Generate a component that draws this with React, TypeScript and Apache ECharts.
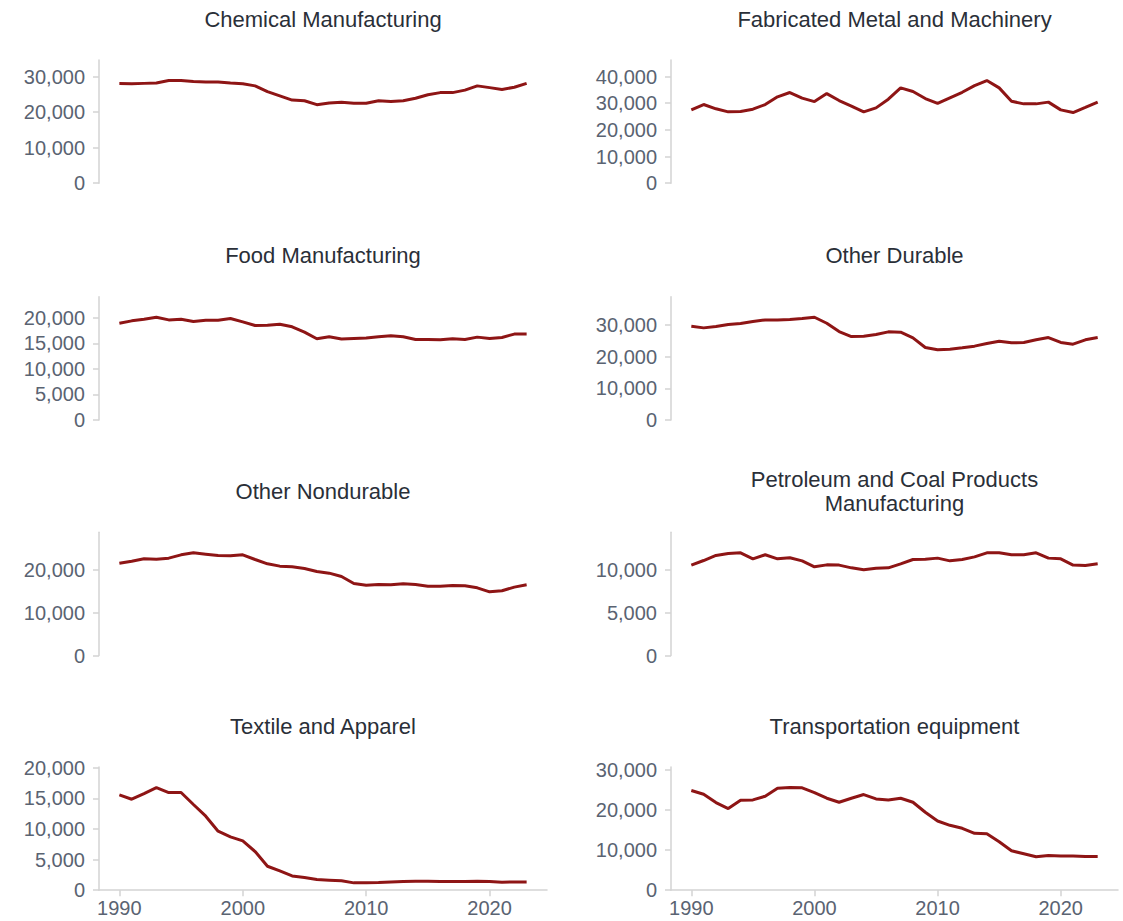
import React, { useEffect, useRef } from "react";
import * as echarts from "echarts";

const years: number[] = [];
for (let y = 1990; y <= 2023; y++) years.push(y);

const titles = [
  "Chemical Manufacturing",
  "Fabricated Metal and Machinery",
  "Food Manufacturing",
  "Other Durable",
  "Other Nondurable",
  "Petroleum and Coal Products\nManufacturing",
  "Textile and Apparel",
  "Transportation equipment",
];

const chemical = [28030, 28000, 28100, 28200, 28900, 28900, 28600, 28500, 28500, 28200, 28000, 27400, 25800, 24600, 23400, 23200, 22100, 22600, 22800, 22500, 22500, 23200, 23000, 23200, 23900, 24900, 25500, 25500, 26200, 27400, 26900, 26400, 27000, 28100];
const fabricated = [27500, 29500, 27900, 26750, 26900, 27750, 29500, 32400, 34000, 31900, 30600, 33600, 31000, 28900, 26750, 28250, 31500, 35750, 34400, 31750, 29900, 32000, 34100, 36600, 38500, 35750, 30750, 29750, 29750, 30400, 27500, 26500, 28400, 30400];
const food = [18960, 19420, 19740, 20130, 19610, 19740, 19290, 19550, 19550, 19870, 19220, 18510, 18570, 18770, 18250, 17210, 15910, 16300, 15850, 15970, 16040, 16300, 16490, 16300, 15780, 15780, 15710, 15910, 15780, 16230, 15970, 16170, 16820, 16820];
const otherDurable = [29680, 29160, 29580, 30210, 30530, 31160, 31680, 31680, 31790, 32110, 32530, 30630, 28000, 26420, 26530, 27050, 27900, 27790, 26000, 22950, 22210, 22420, 22840, 23370, 24210, 24950, 24420, 24530, 25370, 26100, 24530, 24000, 25370, 26100];
const otherNondurable = [21640, 22110, 22660, 22580, 22810, 23590, 24060, 23750, 23440, 23360, 23590, 22500, 21480, 20940, 20780, 20390, 19690, 19300, 18520, 16880, 16480, 16640, 16560, 16800, 16640, 16250, 16250, 16410, 16330, 15860, 14920, 15160, 16020, 16560];
const petroleum = [10590, 11130, 11720, 11960, 12030, 11330, 11800, 11330, 11450, 11090, 10390, 10620, 10590, 10270, 10040, 10230, 10270, 10740, 11250, 11290, 11410, 11090, 11250, 11560, 12030, 12030, 11800, 11800, 12030, 11410, 11330, 10590, 10550, 10740];
const textile = [15590, 14880, 15800, 16790, 15970, 15970, 14010, 12100, 9650, 8720, 8070, 6320, 3920, 3160, 2340, 2070, 1740, 1640, 1530, 1200, 1200, 1250, 1360, 1420, 1470, 1470, 1420, 1420, 1420, 1470, 1420, 1310, 1360, 1360];
const transportation = [24830, 23920, 21830, 20330, 22420, 22500, 23420, 25420, 25580, 25500, 24330, 22920, 21920, 22920, 23830, 22750, 22500, 22920, 21920, 19420, 17250, 16170, 15420, 14170, 14080, 12080, 9830, 9080, 8330, 8670, 8500, 8500, 8420, 8420];

const seriesData = [chemical, fabricated, food, otherDurable, otherNondurable, petroleum, textile, transportation];

const yTicks = [
  [0, 10000, 20000, 30000],
  [0, 10000, 20000, 30000, 40000],
  [0, 5000, 10000, 15000, 20000],
  [0, 10000, 20000, 30000],
  [0, 10000, 20000],
  [0, 5000, 10000],
  [0, 5000, 10000, 15000, 20000],
  [0, 10000, 20000, 30000],
];

const xTicks = [1990, 2000, 2010, 2020];

const FONT = "'Liberation Sans', Arial, sans-serif";
const LABEL_COLOR = "#5a6372";
const AXIS_COLOR = "#d3d3d3";
const LINE_COLOR = "#8e1515";

export default function App() {
  const ref = useRef<HTMLDivElement>(null);
  useEffect(() => {
    document.body.style.margin = "0";
    const chart = echarts.init(ref.current!, undefined, { renderer: "svg" });
    const colLeft = [99, 671];
    const colWidth = [448, 447];
    const rowTop = [60, 296.7, 532.3, 767];
    const plotH = 123.2;
    const grids: any[] = [];
    const xAxes: any[] = [];
    const yAxes: any[] = [];
    const series: any[] = [];
    const graphics: any[] = [];
    for (let i = 0; i < 8; i++) {
      const r = Math.floor(i / 2);
      const c = i % 2;
      const bottomRow = r === 3;
      grids.push({ left: colLeft[c], top: rowTop[r], width: colWidth[c], height: plotH, containLabel: false });
      xAxes.push({
        type: "value",
        gridIndex: i,
        min: 1988.35,
        max: 2024.65,
        splitLine: { show: false },
        axisLine: { show: bottomRow, onZero: false, lineStyle: { color: AXIS_COLOR, width: 1.5 } },
        axisTick: { show: bottomRow, length: 6, customValues: xTicks, lineStyle: { color: AXIS_COLOR, width: 1.5 } },
        axisLabel: {
          show: bottomRow,
          customValues: xTicks,
          color: LABEL_COLOR,
          fontFamily: FONT,
          fontSize: 20,
          margin: 8,
          formatter: (v: number) => String(v),
        },
      });
      yAxes.push({
        type: "value",
        gridIndex: i,
        min: 0,
        max: (e: any) => e.max * 1.2,
        splitLine: { show: false },
        axisLine: { show: true, lineStyle: { color: AXIS_COLOR, width: 1.5 } },
        axisTick: { show: true, length: 6, customValues: yTicks[i], lineStyle: { color: AXIS_COLOR, width: 1.5 } },
        axisLabel: {
          customValues: yTicks[i],
          color: LABEL_COLOR,
          fontFamily: FONT,
          fontSize: 20,
          margin: 14,
          formatter: (v: number) => v.toLocaleString("en-US"),
        },
      });
      series.push({
        type: "line",
        xAxisIndex: i,
        yAxisIndex: i,
        data: years.map((y, k) => [y, seriesData[i][k]]),
        showSymbol: false,
        lineStyle: { color: LINE_COLOR, width: 3 },
        itemStyle: { color: LINE_COLOR },
      });
      graphics.push({
        type: "text",
        x: colLeft[c] + colWidth[c] / 2,
        y: rowTop[r] - 41,
        style: {
          text: titles[i],
          fill: "#2a2f38",
          font: `22px ${FONT}`,
          textAlign: "center",
          textVerticalAlign: "middle",
          lineHeight: 24,
        },
      });
    }
    chart.setOption({
      animation: false,
      backgroundColor: "#ffffff",
      grid: grids,
      xAxis: xAxes,
      yAxis: yAxes,
      series,
      graphic: graphics,
    });
    return () => chart.dispose();
  }, []);
  return <div ref={ref} style={{ width: 1123, height: 921 }} />;
}
